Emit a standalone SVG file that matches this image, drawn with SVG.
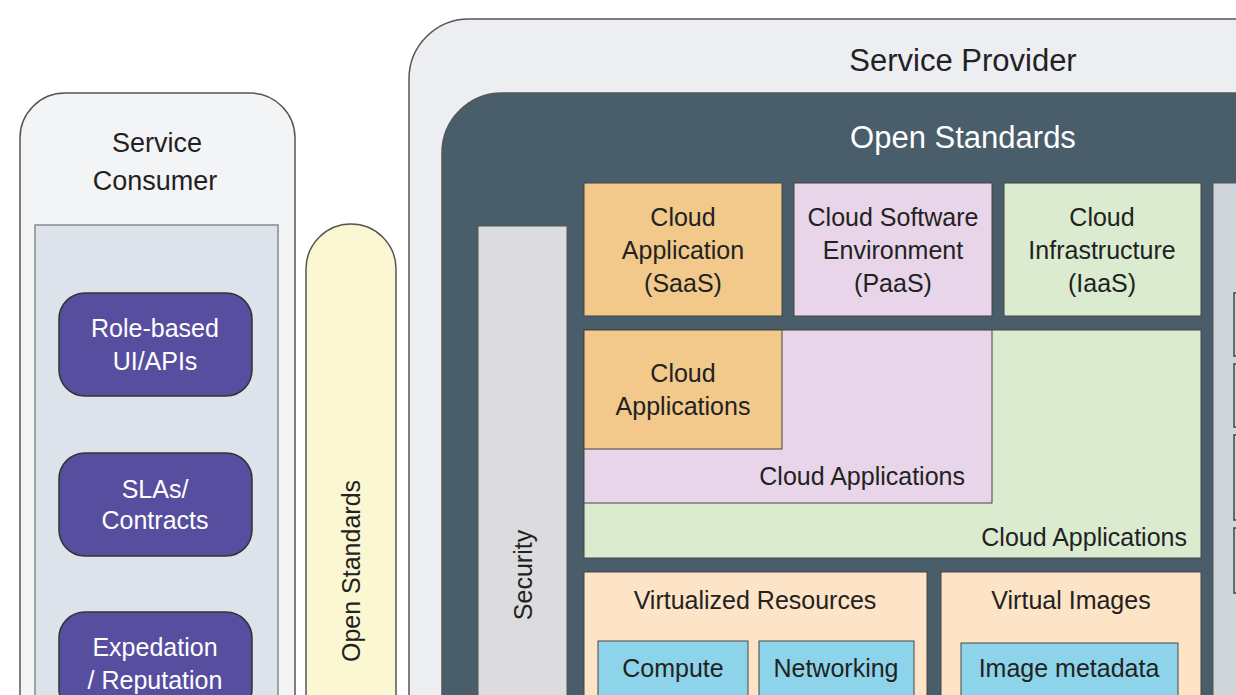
<svg xmlns="http://www.w3.org/2000/svg" width="1236" height="695" viewBox="0 0 1236 695">
<style>
text{font-family:"Liberation Sans",Arial,sans-serif;fill:#222;}
.w{fill:#fff;}
.c{text-anchor:middle;}
.r{text-anchor:end;}
.f25{font-size:25px;}
.box{stroke:#555;stroke-width:1.5;}
.purple{fill:#584ea0;stroke:#333;stroke-width:1.5;}
</style>
<rect width="1236" height="695" fill="#fff"/>
<g id="service-consumer">
<rect x="20" y="93" width="275" height="700" rx="45" fill="#f3f4f6" class="box"/>
<text class="c" x="157" y="152" font-size="27">Service</text>
<text class="c" x="155" y="190" font-size="27">Consumer</text>
<rect x="35" y="225" width="243" height="520" fill="#dde3eb" stroke="#888" stroke-width="1.5"/>
</g>
<g id="role-based">
<rect x="59" y="293" width="193" height="103" rx="26" class="purple"/>
<text class="c w f25" x="155" y="337">Role-based</text>
<text class="c w f25" x="155" y="370">UI/APIs</text>
</g>
<g id="slas">
<rect x="59" y="453" width="193" height="103" rx="26" class="purple"/>
<text class="c w f25" x="155" y="498">SLAs/</text>
<text class="c w f25" x="155" y="529">Contracts</text>
</g>
<g id="expedation">
<rect x="59" y="612" width="193" height="103" rx="26" class="purple"/>
<text class="c w f25" x="155" y="656">Expedation</text>
<text class="c w f25" x="155" y="689">/ Reputation</text>
</g>
<g id="open-standards-pill">
<rect x="306" y="224" width="90" height="560" rx="45" fill="#faf7d2" class="box"/>
<text class="c f25" transform="translate(360,571) rotate(-90)">Open Standards</text>
</g>
<g id="service-provider">
<rect x="409" y="19" width="900" height="760" rx="60" fill="#eceef1" class="box"/>
<text class="c" x="963" y="71" font-size="31">Service Provider</text>
</g>
<g id="open-standards">
<rect x="442" y="93" width="860" height="700" rx="60" fill="#4a5d6b" class="box"/>
<text class="c w" x="963" y="148" font-size="31">Open Standards</text>
</g>
<g id="security">
<rect x="478" y="226" width="89" height="520" fill="#dcdcde" stroke="#555" stroke-width="1"/>
<text class="c f25" transform="translate(532,575) rotate(-90)">Security</text>
</g>
<g id="saas">
<rect x="584" y="183" width="198" height="133" fill="#f2c98b" stroke="#444" stroke-width="1"/>
<text class="c f25" x="683" y="226">Cloud</text>
<text class="c f25" x="683" y="259">Application</text>
<text class="c f25" x="683" y="292">(SaaS)</text>
</g>
<g id="paas">
<rect x="794" y="183" width="198" height="133" fill="#e8d5e9" stroke="#444" stroke-width="1"/>
<text class="c f25" x="893" y="226">Cloud Software</text>
<text class="c f25" x="893" y="259">Environment</text>
<text class="c f25" x="893" y="292">(PaaS)</text>
</g>
<g id="iaas">
<rect x="1004" y="183" width="197" height="133" fill="#daebd0" stroke="#444" stroke-width="1"/>
<text class="c f25" x="1102" y="226">Cloud</text>
<text class="c f25" x="1102" y="259">Infrastructure</text>
<text class="c f25" x="1102" y="292">(IaaS)</text>
</g>
<g id="cloud-apps-green">
<rect x="584" y="330" width="617" height="228" fill="#daebd0" stroke="#444" stroke-width="1"/>
<text class="r f25" x="1187" y="546">Cloud Applications</text>
</g>
<g id="cloud-apps-pink">
<rect x="584" y="330" width="408" height="173" fill="#e8d5e9" stroke="#444" stroke-width="1"/>
<text class="r f25" x="965" y="485">Cloud Applications</text>
</g>
<g id="cloud-apps-orange">
<rect x="584" y="330" width="198" height="119" fill="#f2c98b" stroke="#444" stroke-width="1"/>
<text class="c f25" x="683" y="382">Cloud</text>
<text class="c f25" x="683" y="415">Applications</text>
</g>
<g id="virtualized-resources">
<rect x="584" y="572" width="343" height="200" fill="#fde4c6" stroke="#444" stroke-width="1"/>
<text class="c f25" x="755" y="609">Virtualized Resources</text>
</g>
<g id="compute">
<rect x="598" y="641" width="150" height="100" fill="#8dd4ea" stroke="#444" stroke-width="1"/>
<text class="c f25" x="673" y="677">Compute</text>
</g>
<g id="networking">
<rect x="759" y="641" width="155" height="100" fill="#8dd4ea" stroke="#444" stroke-width="1"/>
<text class="c f25" x="836" y="677">Networking</text>
</g>
<g id="virtual-images">
<rect x="941" y="572" width="260" height="200" fill="#fde4c6" stroke="#444" stroke-width="1"/>
<text class="c f25" x="1071" y="609">Virtual Images</text>
</g>
<g id="image-metadata">
<rect x="961" y="643" width="217" height="100" fill="#8dd4ea" stroke="#444" stroke-width="1"/>
<text class="c f25" x="1069" y="677">Image metadata</text>
</g>
<g id="right-panel">
<rect x="1213" y="183" width="60" height="560" fill="#d0d6da" stroke="#555" stroke-width="1"/>
<rect x="1234" y="293" width="20" height="63" fill="#d0d6da" stroke="#444" stroke-width="1.5"/>
<rect x="1234" y="364" width="20" height="63" fill="#d0d6da" stroke="#444" stroke-width="1.5"/>
<rect x="1234" y="435" width="20" height="85" fill="#d0d6da" stroke="#444" stroke-width="1.5"/>
<rect x="1234" y="528" width="20" height="65" fill="#d0d6da" stroke="#444" stroke-width="1.5"/>
</g>
<g id="connectors"></g>
</svg>
